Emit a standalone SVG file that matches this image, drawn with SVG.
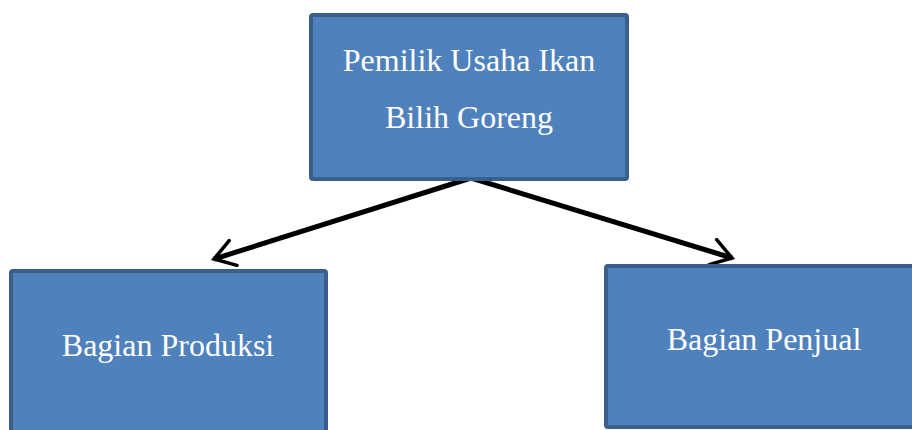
<svg xmlns="http://www.w3.org/2000/svg" width="912" height="430" viewBox="0 0 912 430">
<style>
.box{fill:#4f81bd;stroke:#3a5f8b;stroke-width:4}
.lbl{font-family:"Liberation Serif","Times New Roman",serif;font-size:32px;fill:#ffffff;text-anchor:middle}
.conn{stroke:#000;stroke-width:5;fill:none;marker-end:url(#arr)}
</style>
<defs>
<marker id="arr" viewBox="0 0 12 12" refX="10" refY="6" markerWidth="6" markerHeight="6" markerUnits="strokeWidth" orient="auto">
<path d="M2,0.8 L10,6 L2,11.2" fill="none" stroke="#000" stroke-width="1.4" stroke-linecap="round" stroke-linejoin="miter"/>
</marker>
</defs>
<g id="connectors">
<line class="conn" x1="471" y1="178" x2="214" y2="259"/>
<line class="conn" x1="471" y1="178" x2="732" y2="258"/>
</g>
<g id="owner">
<rect class="box" x="311" y="15" width="316" height="164" rx="2"/>
<text class="lbl" x="469" y="71">Pemilik Usaha Ikan</text>
<text class="lbl" x="469" y="128">Bilih Goreng</text>
</g>
<g id="produksi">
<rect class="box" x="11" y="271" width="315" height="170" rx="2"/>
<text class="lbl" x="168" y="356">Bagian Produksi</text>
</g>
<g id="penjual">
<rect class="box" x="606" y="266" width="316" height="161" rx="2"/>
<text class="lbl" x="764" y="350">Bagian Penjual</text>
</g>
</svg>
